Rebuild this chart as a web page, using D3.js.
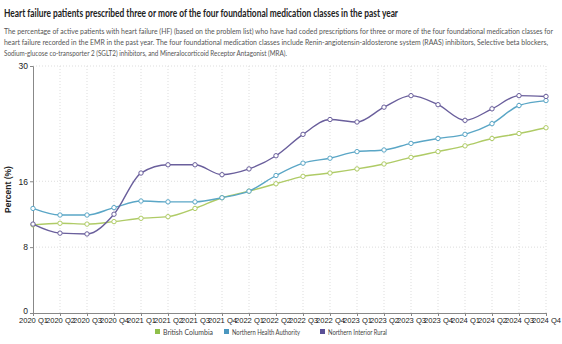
<!doctype html>
<html>
<head>
    <meta charset="utf-8">
    <title>Heart failure foundational medication classes</title>
    <script src="https://cdnjs.cloudflare.com/ajax/libs/d3/7.8.5/d3.min.js"></script>
    <style>
        body { margin: 0; background: #fff; }
        svg { display: block; }
    </style>
</head>
<body>
<div id="chart"></div>
<script>
    // quarters along the x axis
    const quarters = [
        "2020 Q1", "2020 Q2", "2020 Q3", "2020 Q4",
        "2021 Q1", "2021 Q2", "2021 Q3", "2021 Q4",
        "2022 Q1", "2022 Q2", "2022 Q3", "2022 Q4",
        "2023 Q1", "2023 Q2", "2023 Q3", "2023 Q4",
        "2024 Q1", "2024 Q2", "2024 Q3", "2024 Q4"
    ];

    // percent of active HF patients on 3+ of the 4 classes
    const britishColumbia = [10.7, 10.9, 10.8, 11.1, 11.5, 11.7, 12.7, 14.0, 14.8, 15.7,
                             16.6, 17.0, 17.5, 18.1, 18.9, 19.6, 20.3, 21.2, 21.8, 22.5];
    const northernHealth = [12.7, 11.9, 11.9, 12.8, 13.6, 13.5, 13.5, 14.0, 14.8, 16.7,
                            18.2, 18.8, 19.6, 19.8, 20.6, 21.2, 21.7, 23.0, 25.2, 25.8];
    const northernInteriorRural = [10.8, 9.7, 9.6, 12.0, 17.0, 18.0, 18.0, 16.8, 17.5, 19.1,
                                   21.7, 23.5, 23.2, 25.0, 26.4, 25.3, 23.4, 24.8, 26.4, 26.3];

    const seriesNames = ["British Columbia", "Northern Health Authority", "Northern Interior Rural"];
    const yTicks = [0, 8, 16, 30];

    const title = "Heart failure patients prescribed three or more of the four foundational medication classes in the past year";
    const subtitle = [
        "The percentage of active patients with heart failure (HF) (based on the problem list) who have had coded prescriptions for three or more of the four foundational medication classes for",
        "heart failure recorded in the EMR in the past year. The four foundational medication classes include Renin-angiotensin-aldosterone system (RAAS) inhibitors, Selective beta blockers,",
        "Sodium-glucose co-transporter 2 (SGLT2) inhibitors, and Mineralocorticoid Receptor Antagonist (MRA)."
    ];

    const series = [
        { name: seriesNames[0], values: britishColumbia, line: "#afcb66", key: "#8fbf4a" },
        { name: seriesNames[1], values: northernHealth, line: "#5aa6c6", key: "#4b97bf" },
        { name: seriesNames[2], values: northernInteriorRural, line: "#6a5f9c", key: "#5a4f96" }
    ];

    const width = 562, height = 344;
    const margin = { top: 66, right: 16, bottom: 31, left: 33 };

    const svg = d3.select("#chart").append("svg")
        .attr("width", width)
        .attr("height", height);

    // heading
    svg.append("text")
        .attr("x", 4).attr("y", 17)
        .attr("font-family", "Lato, 'Noto Sans', sans-serif")
        .attr("font-weight", "bold")
        .attr("font-size", 11)
        .attr("fill", "#222")
        .attr("textLength", 394)
        .attr("lengthAdjust", "spacingAndGlyphs")
        .text(title);

    const subLengths = [549, 544, 283];
    svg.selectAll("text.sub")
        .data(subtitle)
        .join("text")
        .attr("class", "sub")
        .attr("x", 4)
        .attr("y", (d, i) => 34 + i * 11)
        .attr("font-family", "Lato, 'Noto Sans', sans-serif")
        .attr("font-size", 6.9)
        .attr("fill", "#555")
        .attr("textLength", (d, i) => subLengths[i])
        .attr("lengthAdjust", "spacingAndGlyphs")
        .text(d => d);

    const x = d3.scalePoint()
        .domain(quarters)
        .range([margin.left, width - margin.right]);

    const y = d3.scaleLinear()
        .domain([0, 30])
        .range([height - margin.bottom, margin.top]);

    // dotted grid
    svg.append("g")
        .selectAll("line")
        .data(quarters.slice(1))
        .join("line")
        .attr("x1", d => x(d)).attr("x2", d => x(d))
        .attr("y1", margin.top).attr("y2", height - margin.bottom)
        .attr("stroke", "#ddd")
        .attr("stroke-dasharray", "1,2");

    svg.append("g")
        .selectAll("line")
        .data(yTicks.slice(1))
        .join("line")
        .attr("x1", margin.left).attr("x2", width - margin.right)
        .attr("y1", d => y(d)).attr("y2", d => y(d))
        .attr("stroke", "#ddd")
        .attr("stroke-dasharray", "1,2");

    // axes
    const yAxis = svg.append("g")
        .attr("transform", `translate(${margin.left},0)`)
        .call(d3.axisLeft(y).tickValues(yTicks).tickSize(3).tickPadding(2));

    const xAxis = svg.append("g")
        .attr("transform", `translate(0,${height - margin.bottom})`)
        .call(d3.axisBottom(x).tickSize(3).tickPadding(2).tickSizeOuter(0));

    [yAxis, xAxis].forEach(g => {
        g.select(".domain").attr("stroke", "#888");
        g.selectAll(".tick line").attr("stroke", "#888");
        g.selectAll("text")
            .attr("font-family", "'Liberation Sans', Arial, sans-serif")
            .attr("fill", "#222");
    });
    yAxis.selectAll("text").attr("font-size", 8.5);
    yAxis.selectAll(".tick text").filter(d => d === 0).attr("dy", "0.1em");
    xAxis.selectAll("text").attr("font-size", 7.6).attr("dy", "0.7em");

    svg.append("text")
        .attr("transform", `translate(11,${(margin.top + height - margin.bottom) / 2}) rotate(-90)`)
        .attr("text-anchor", "middle")
        .attr("font-family", "'Liberation Sans', Arial, sans-serif")
        .attr("font-weight", "bold")
        .attr("font-size", 8.5)
        .attr("fill", "#222")
        .text("Percent (%)");

    // lines and markers
    const line = d3.line()
        .x((d, i) => x(quarters[i]))
        .y(d => y(d))
        .curve(d3.curveMonotoneX);

    series.forEach(s => {
        svg.append("path")
            .datum(s.values)
            .attr("fill", "none")
            .attr("stroke", s.line)
            .attr("stroke-width", 1.4)
            .attr("d", line);

        svg.append("g")
            .selectAll("circle")
            .data(s.values)
            .join("circle")
            .attr("cx", (d, i) => x(quarters[i]))
            .attr("cy", d => y(d))
            .attr("r", 2.2)
            .attr("fill", "#fff")
            .attr("stroke", s.line)
            .attr("stroke-width", 1);
    });

    // legend
    const legendX = [155, 224, 320];
    const legendLen = [50, 68, 59];
    const legend = svg.append("g")
        .selectAll("g")
        .data(series)
        .join("g")
        .attr("transform", (d, i) => `translate(${legendX[i]},329)`);

    legend.append("rect")
        .attr("width", 5).attr("height", 5)
        .attr("fill", d => d.key);

    legend.append("text")
        .attr("x", 8).attr("y", 5.5)
        .attr("font-family", "Lato, 'Noto Sans', sans-serif")
        .attr("font-size", 7.8)
        .attr("fill", "#444")
        .attr("textLength", (d, i) => legendLen[i])
        .attr("lengthAdjust", "spacingAndGlyphs")
        .text(d => d.name);
</script>
</body>
</html>
